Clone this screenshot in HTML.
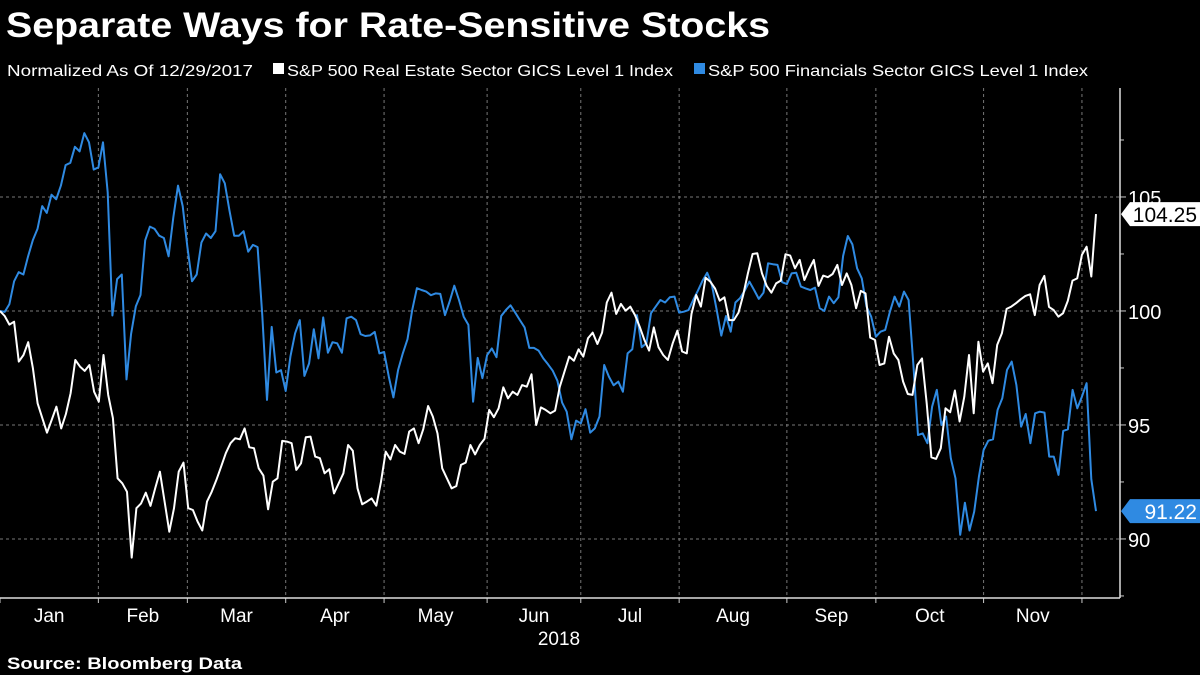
<!DOCTYPE html>
<html><head><meta charset="utf-8"><style>
html,body{margin:0;padding:0;background:#000;}
svg{display:block;font-family:"Liberation Sans",sans-serif;}
</style></head><body>
<svg id="chart" width="1200" height="675" viewBox="0 0 1200 675">
<rect width="1200" height="675" fill="#000"/>
<text x="6" y="37" fill="#fff" font-weight="bold" font-size="35" textLength="764" lengthAdjust="spacingAndGlyphs">Separate Ways for Rate-Sensitive Stocks</text>
<text x="7" y="76" fill="#fff" font-size="16" textLength="246" lengthAdjust="spacingAndGlyphs">Normalized As Of 12/29/2017</text>
<g>
<rect x="273" y="63" width="11" height="11" fill="#fff"/>
<text x="287" y="76" fill="#fff" font-size="16" textLength="386" lengthAdjust="spacingAndGlyphs">S&amp;P 500 Real Estate Sector GICS Level 1 Index</text>
</g>
<g>
<rect x="694" y="63" width="11" height="11" fill="#2f8ae2"/>
<text x="708" y="76" fill="#fff" font-size="16" textLength="380" lengthAdjust="spacingAndGlyphs">S&amp;P 500 Financials Sector GICS Level 1 Index</text>
</g>
<g id="grid"></g>
<g id="axes"></g>
<g id="series"></g>
<g id="labels"></g>
<text x="7" y="669" fill="#fff" font-weight="bold" font-size="17" textLength="235" lengthAdjust="spacingAndGlyphs">Source: Bloomberg Data</text>
</svg>
<script>
const monthLabels = ["Jan","Feb","Mar","Apr","May","Jun","Jul","Aug","Sep","Oct","Nov"];
const monthStartDays = [0,21,40,61,82,104,124,145,168,187,210,231];
const yTicks = [90,95,100,105];
const realEstate = [100,99.78,99.4,99.53,97.78,98.07,98.63,97.49,95.95,95.3,94.66,95.22,95.8,94.85,95.48,96.39,97.85,97.56,97.37,97.63,96.46,96.02,98.07,96.32,95.3,92.66,92.44,92.07,89.18,91.35,91.56,92.03,91.45,92.22,92.95,91.64,90.32,91.35,92.95,93.35,91.35,91.27,90.76,90.37,91.64,92.07,92.59,93.17,93.76,94.2,94.42,94.37,94.85,94.02,93.98,93.1,92.78,91.3,92.51,92.66,94.3,
94.27,94.2,93.03,93.32,94.46,94.49,93.61,93.54,92.88,93.06,92.0,92.44,92.88,94.12,93.87,92.22,91.52,91.64,91.78,91.46,92.51,93.83,93.49,94.12,93.83,93.73,94.71,94.85,94.2,94.82,95.83,95.37,94.63,93.1,92.66,92.22,92.32,93.25,93.35,94.12,93.71,94.12,94.39,95.66,95.34,95.73,96.65,96.17,96.46,96.32,96.75,96.68,97.22,95.0,95.77,95.66,95.51,95.63,96.68,
97.34,98.0,97.82,98.32,98.0,98.8,99.05,98.55,99.05,100.37,100.8,99.87,100.31,100.01,100.19,99.82,99.31,98.73,98.26,99.28,98.41,98.07,97.85,98.58,99.14,98.22,98.14,99.87,100.7,100.19,101.46,101.29,100.99,100.45,100.6,99.6,99.6,99.93,100.7,101.65,102.5,102.53,101.65,101.1,100.8,101.21,101.33,102.49,102.43,101.87,102.24,101.36,101.83,102.24,101.1,101.55,101.48,101.62,
102.02,101.14,101.65,101.14,100.12,100.88,100.77,98.83,98.73,97.63,97.7,98.87,98.14,97.85,96.9,96.36,96.32,97.63,97.92,95.95,93.58,93.51,93.98,95.73,95.56,96.51,95.15,96.24,98.07,95.51,98.65,97.34,97.7,96.83,98.51,99.02,100.09,100.19,100.34,100.51,100.66,100.73,99.82,101.14,101.54,100.18,100.04,99.75,99.9,100.44,101.33,101.43,102.46,102.82,101.51,104.25];
const financials = [100,99.96,100.3,101.3,101.7,101.6,102.4,103.1,103.6,104.6,104.3,105.1,104.9,105.5,106.4,106.5,107.2,107.0,107.8,107.4,106.2,106.3,107.4,105.2,99.8,101.4,101.6,97.0,99.0,100.2,100.7,103.1,103.7,103.6,103.3,103.2,102.4,104.1,105.5,104.6,102.8,101.3,101.6,103.0,103.4,103.2,103.5,106.0,105.6,104.4,103.3,103.3,103.5,102.6,102.9,102.8,99.8,96.1,99.3,97.3,97.4,
96.49,98.0,99.02,99.6,97.15,97.7,99.2,97.92,99.72,98.17,98.63,98.58,98.17,99.68,99.75,99.6,98.98,98.9,98.93,99.08,98.14,98.2,97.12,96.21,97.41,98.14,98.76,100.04,101.0,100.92,100.85,100.69,100.77,100.75,99.82,100.41,101.11,100.48,99.75,99.39,96.02,97.94,97.05,98.06,98.36,97.97,99.78,100.04,100.25,99.93,99.6,99.28,98.38,98.38,98.26,97.92,97.66,
97.38,96.94,95.98,95.58,94.37,95.19,95.07,95.69,94.66,94.85,95.37,97.63,97.12,96.74,96.9,96.46,98.14,98.32,99.82,98.41,98.58,99.9,100.19,100.48,100.37,100.6,100.63,99.93,99.97,100.04,100.48,100.89,101.33,101.68,101.14,100.07,98.92,99.78,99.09,100.37,100.56,100.89,101.29,100.92,100.53,100.8,102.09,102.05,102.02,101.26,101.18,101.65,101.68,101.07,100.99,100.92,101.02,100.12,
100.0,100.63,100.34,100.6,102.41,103.29,102.92,101.87,101.43,100.19,99.75,98.87,99.09,99.17,99.97,100.63,100.19,100.85,100.48,97.7,94.56,94.63,94.2,95.8,96.54,95.0,95.37,93.54,92.66,90.18,91.59,90.37,91.2,92.73,93.9,94.31,94.37,95.66,96.17,97.41,97.78,96.75,94.93,95.48,94.2,95.51,95.58,95.54,93.61,93.61,92.81,94.74,94.81,96.54,95.73,96.24,96.83,92.62,91.22];

const NS="http://www.w3.org/2000/svg";
const plotL=0, plotR=1096, axisX=1120, plotTop=88, plotBot=598;
const yMin=87.41, yMax=109.78;
const lastDay=234;
function xs(d){return plotL+(plotR-plotL)*d/lastDay;}
function ys(v){return plotBot-(v-yMin)/(yMax-yMin)*(plotBot-plotTop);}
function mk(tag,attrs,parent){const e=document.createElementNS(NS,tag);for(const k in attrs)e.setAttribute(k,attrs[k]);parent.appendChild(e);return e;}
const grid=document.getElementById('grid'),axes=document.getElementById('axes'),series=document.getElementById('series'),labels=document.getElementById('labels');

yTicks.forEach(v=>{
  const l=mk('line',{x1:0,x2:axisX,y1:ys(v),y2:ys(v),stroke:'#777','stroke-width':1,'stroke-dasharray':'3,3'},grid);
  
  
  const t=mk('line',{x1:axisX,x2:axisX+6,y1:ys(v),y2:ys(v),stroke:'#ccc','stroke-width':1},axes);
  
  
  const tx=mk('text',{x:axisX+8,y:ys(v)+8,fill:'#fff','font-size':20},axes);
  tx.textContent=v;
  
  
  const mt=mk('line',{x1:axisX,x2:axisX+4,y1:ys(v+2.5),y2:ys(v+2.5),stroke:'#ccc','stroke-width':1},axes);
  
  
});
const mt0=mk('line',{x1:axisX,x2:axisX+4,y1:ys(87.5),y2:ys(87.5),stroke:'#ccc','stroke-width':1},axes);



monthStartDays.forEach((d,i)=>{
  if(i>0){
    const g=mk('line',{x1:xs(d),x2:xs(d),y1:plotTop,y2:plotBot,stroke:'#777','stroke-width':1,'stroke-dasharray':'3,3'},grid);
    
    
  }
  const tk=mk('line',{x1:xs(d),x2:xs(d),y1:plotBot,y2:plotBot+5,stroke:'#ccc','stroke-width':1},axes);
  
  
});
monthLabels.forEach((m,i)=>{
  const a=monthStartDays[i], b=monthStartDays[i+1];
  const t=mk('text',{x:(xs(a)+xs(b))/2,y:622,fill:'#fff','font-size':19,'text-anchor':'middle'},axes);
  t.textContent=m;
  
  
});
const yr=mk('text',{x:559,y:645,fill:'#fff','font-size':19,'text-anchor':'middle'},axes);
yr.textContent='2018';


const xa=mk('line',{x1:0,x2:axisX,y1:plotBot,y2:plotBot,stroke:'#ddd','stroke-width':1.5},axes);


const ya=mk('line',{x1:axisX,x2:axisX,y1:plotTop,y2:plotBot,stroke:'#ddd','stroke-width':1.5},axes);



function drawLine(vals,color,name){
  const step=lastDay/(vals.length-1);
  const pts=vals.map((v,i)=>xs(i*step).toFixed(1)+','+ys(v).toFixed(1)).join(' ');
  const p=mk('polyline',{points:pts,fill:'none',stroke:color,'stroke-width':2,'stroke-linejoin':'round'},series);
  
  
}
drawLine(financials,'#2f8ae2','financials-line');
drawLine(realEstate,'#ffffff','real-estate-line');

function endLabel(v,bg,fg,name){
  const y=ys(v);
  const g=mk('g',{},labels);
  
  
  mk('polygon',{points:`${axisX+1},${y} ${axisX+10},${y-12} 1200,${y-12} 1200,${y+12} ${axisX+10},${y+12}`,fill:bg},g);
  const t=mk('text',{x:1197,y:y+8,fill:fg,'font-size':21,'text-anchor':'end'},g);
  t.textContent=v.toFixed(2);
}
endLabel(realEstate[realEstate.length-1],'#fff','#000','real-estate-end-label');
endLabel(financials[financials.length-1],'#2f8ae2','#fff','financials-end-label');
</script>
</body></html>
